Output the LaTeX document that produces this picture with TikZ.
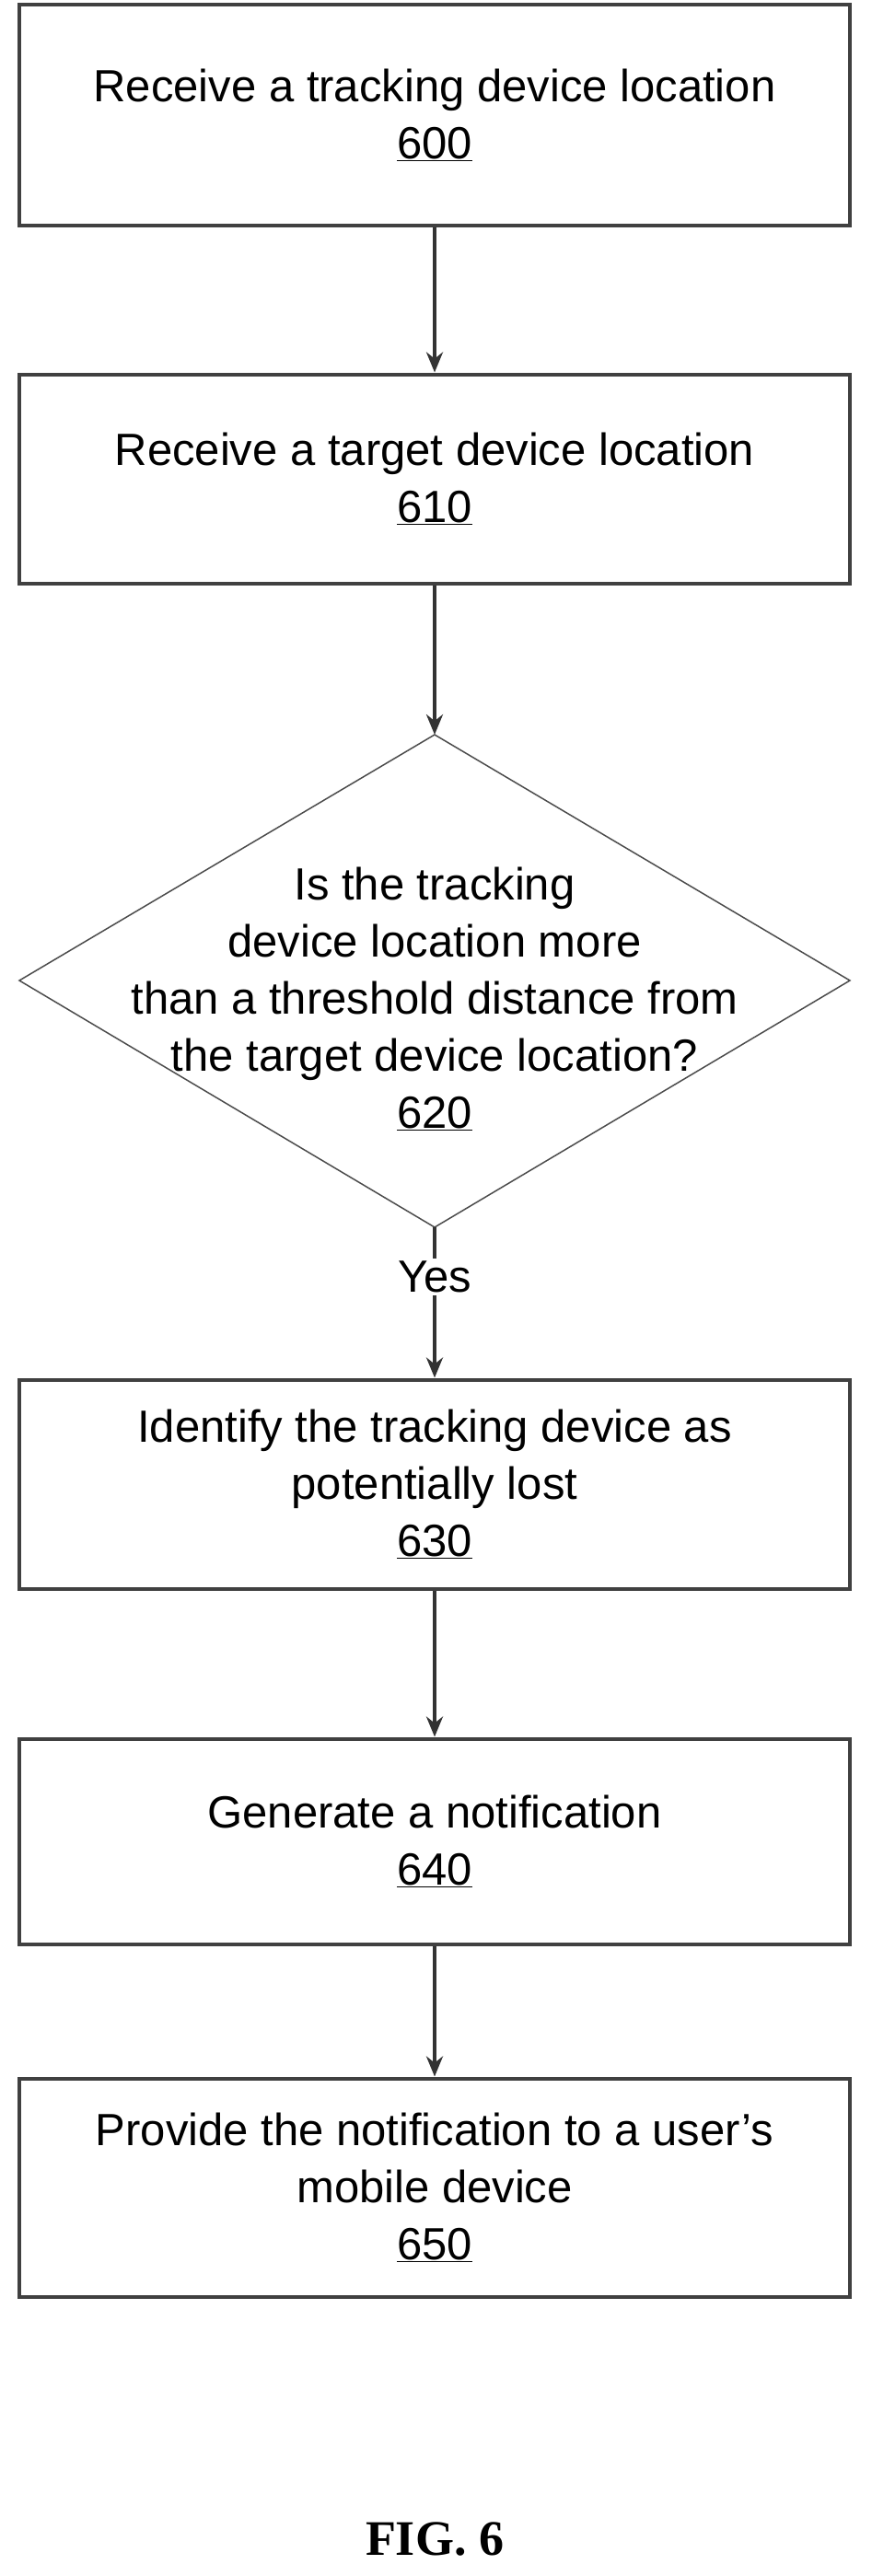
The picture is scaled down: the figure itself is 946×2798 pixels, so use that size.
\documentclass[tikz,border=0pt]{standalone}
\usepackage{fontspec}
\setmainfont{Liberation Sans}
\newfontfamily\figfont{Liberation Serif}
\usetikzlibrary{shapes.geometric,arrows.meta,positioning}
\tikzset{
  procbox/.style={draw=black!75, line width=4pt, minimum width=902pt, minimum height=228pt,
    align=center, font=\fontsize{49}{62}\selectfont},
  testtext/.style={align=center, inner sep=0pt, font=\fontsize{49}{62}\selectfont},
  flow/.style={-{Stealth[length=22pt,width=18pt]}, draw=black!80, line width=4pt}
}
\begin{document}
\begin{tikzpicture}[x=1pt,y=-1pt]
	\useasboundingbox (0,0) rectangle (946,2798);
	% process steps
	\node[procbox, minimum height=240pt] (s600) at (472,125) {Receive a tracking device location\\\underline{600}};
	\node[procbox, minimum height=227pt] (s610) at (472,520) {Receive a target device location\\\underline{610}};
	% decision
	\coordinate (d-top) at (472,798);
	\coordinate (d-bot) at (472,1333);
	\draw[draw=black!70, line width=1.5pt] (d-top) -- (21,1065) -- (d-bot) -- (923,1065) -- cycle;
	\node[testtext] (s620) at (472,1085) {Is the tracking\\device location more\\than a threshold distance from\\the target device location?\\\underline{620}};
	\node[procbox, minimum height=227pt] (s630) at (472,1612) {Identify the tracking device as\\potentially lost\\\underline{630}};
	\node[procbox, minimum height=223pt] (s640) at (472,2000) {Generate a notification\\\underline{640}};
	\node[procbox, minimum height=237pt] (s650) at (472,2376) {Provide the notification to a user's\\mobile device\\\underline{650}};
	% connectors
	\draw[flow] (s600) -- (s610);
	\draw[flow] (s610) -- (d-top);
	\draw[flow] (d-bot) -- node[fill=white, font=\fontsize{49}{50}\selectfont, pos=0.33] {Yes} (s630);
	\draw[flow] (s630) -- (s640);
	\draw[flow] (s640) -- (s650);
	\node[font=\figfont\bfseries\fontsize{54}{60}\selectfont] (fig) at (472,2758) {FIG. 6};
\end{tikzpicture}
\end{document}
